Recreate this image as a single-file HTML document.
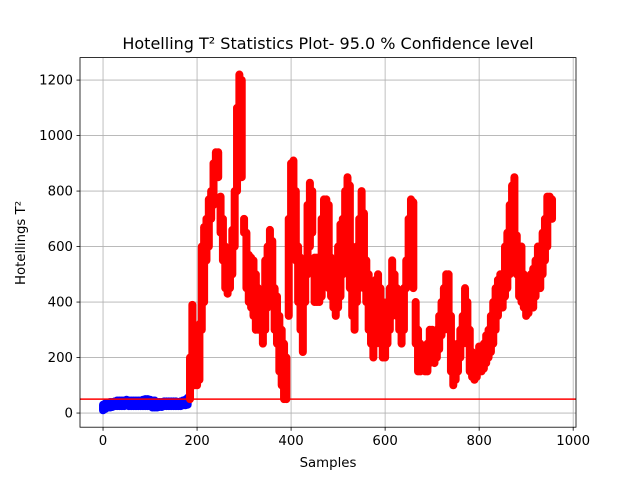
<!DOCTYPE html>
<html><head><meta charset="utf-8"><style>
body{margin:0;background:#fff}
svg{font-family:"DejaVu Sans","Liberation Sans",sans-serif}
</style></head><body>
<svg id="chart" width="640" height="480" viewBox="0 0 640 480" xmlns="http://www.w3.org/2000/svg">
<rect width="640" height="480" fill="#fff"/>
<text x="328" y="49" font-size="16" text-anchor="middle">Hotelling T² Statistics Plot- 95.0 % Confidence level</text>
<text x="328" y="467" font-size="13.3" text-anchor="middle">Samples</text>
<text x="25" y="243" font-size="13.3" text-anchor="middle" transform="rotate(-90 25 243)">Hotellings T²</text>
<g id="grid"></g><g id="marks"></g><g id="axes"></g>
</svg>
<script>
// [sample, low, high]
const blueRecords=[[0,10,30],[5,15,35],[10,20,38],[15,20,40],[20,22,40],[25,25,42],[30,25,45],[35,25,45],[40,25,45],[45,25,45],[50,28,48],[55,25,45],[60,25,45],[65,25,45],[70,25,45],[75,25,45],[80,25,45],[85,25,48],[90,25,50],[95,25,50],[100,25,48],[105,20,45],[110,20,45],[115,20,40],[120,22,40],[125,22,40],[130,25,42],[135,25,42],[140,25,42],[145,25,42],[150,25,42],[155,25,42],[160,25,40],[165,25,42],[170,28,45],[175,28,48],[180,30,55]];
const redRecords=[[185,50,200],[190,150,390],[195,100,300],[200,100,250],[205,120,320],[210,300,600],[215,400,670],[220,550,700],[225,600,770],[230,700,800],[235,750,900],[240,850,940],[245,850,940],[250,650,780],[255,550,700],[260,450,600],[265,430,560],[270,450,550],[275,500,660],[280,600,800],[285,800,1100],[290,1000,1220],[295,850,1200],[300,650,700],[305,450,650],[310,400,570],[315,380,560],[320,350,550],[325,300,500],[330,300,450],[335,350,430],[340,250,400],[345,300,550],[350,380,600],[355,450,660],[360,400,620],[365,300,450],[370,250,420],[375,150,350],[380,100,300],[385,50,250],[390,50,200],[395,350,700],[400,600,900],[405,700,910],[410,550,800],[415,400,600],[420,300,560],[425,220,450],[430,400,550],[435,500,750],[440,600,830],[445,650,800],[450,400,560],[455,400,560],[460,400,550],[465,420,700],[470,550,770],[475,600,770],[480,450,750],[485,420,560],[490,380,500],[495,350,480],[500,380,600],[505,420,680],[510,500,700],[515,550,800],[520,600,850],[525,450,820],[530,350,600],[535,300,560],[540,400,600],[545,450,700],[550,500,800],[555,450,720],[560,400,550],[565,300,500],[570,250,450],[575,200,400],[580,250,480],[585,300,500],[590,250,450],[595,200,400],[600,200,380],[605,250,400],[610,300,450],[615,350,550],[620,400,500],[625,350,450],[630,300,420],[635,250,400],[640,300,450],[645,450,550],[650,500,700],[655,550,770],[660,450,760],[665,250,400],[670,150,300],[675,150,250],[680,160,230],[685,150,220],[690,150,250],[695,180,300],[700,200,300],[705,180,260],[710,200,300],[715,230,350],[720,280,400],[725,300,450],[730,350,500],[735,300,500],[740,150,350],[745,100,250],[750,120,200],[755,150,250],[760,200,300],[765,250,350],[770,300,450],[775,250,400],[780,150,300],[785,130,220],[790,120,200],[795,130,200],[800,150,240],[805,150,220],[810,160,250],[815,180,280],[820,200,300],[825,220,350],[830,250,400],[835,300,450],[840,350,480],[845,400,500],[850,380,480],[855,420,600],[860,450,650],[865,500,750],[870,600,820],[875,650,850],[880,500,640],[885,420,550],[890,400,600],[895,380,500],[900,350,480],[905,360,450],[910,380,500],[915,380,520],[920,420,550],[925,450,600],[930,450,600],[935,500,650],[940,550,700],[945,600,780],[950,700,780],[955,700,770]];
const yTicks=[0,200,400,600,800,1000,1200];
const xTicks=[0,200,400,600,800,1000];
const limitValue=50;
const L=80,R=576,T=57.6,B=427.2,xmin=-49,xmax=1006,ymin=-51,ymax=1281;
const xs=v=>L+(v-xmin)/(xmax-xmin)*(R-L);
const ys=v=>B-(v-ymin)/(ymax-ymin)*(B-T);
const NS="http://www.w3.org/2000/svg";
function mk(parent,tag,attrs){const e=document.createElementNS(NS,tag);for(const k in attrs)e.setAttribute(k,attrs[k]);document.getElementById(parent).appendChild(e);return e;}
yTicks.forEach(v=>{
 const g=mk('grid','line',{x1:L,x2:R,y1:ys(v),y2:ys(v),stroke:'#b0b0b0','stroke-width':0.8});
 
 
 const t=mk('axes','line',{x1:L-3.5,x2:L,y1:ys(v),y2:ys(v),stroke:'#000','stroke-width':0.8});
 
 
 const l=mk('axes','text',{x:L-7,y:ys(v)+4.5,'font-size':13.3,'text-anchor':'end'});l.textContent=v;
 
 
});
xTicks.forEach(v=>{
 const g=mk('grid','line',{x1:xs(v),x2:xs(v),y1:T,y2:B,stroke:'#b0b0b0','stroke-width':0.8});
 
 
 const t=mk('axes','line',{x1:xs(v),x2:xs(v),y1:B,y2:B+3.5,stroke:'#000','stroke-width':0.8});
 
 
 const l=mk('axes','text',{x:xs(v),y:B+18,'font-size':13.3,'text-anchor':'middle'});l.textContent=v;
 
 
});
function drawSeries(records,color){
 records.forEach(r=>{
  const m=mk('marks','line',{x1:xs(r[0]),x2:xs(r[0]),y1:ys(r[1]),y2:ys(r[2]),stroke:color,'stroke-width':8,'stroke-linecap':'round'});
  
  
 });
}
drawSeries(blueRecords,'#0000ff');
drawSeries(redRecords,'#ff0000');
const lim=mk('marks','line',{x1:L,x2:R,y1:ys(limitValue),y2:ys(limitValue),stroke:'#ff0000','stroke-width':1.5});


const fr=mk('axes','rect',{x:L,y:T,width:R-L,height:B-T,fill:'none',stroke:'#000','stroke-width':0.8});


</script>
</body></html>
